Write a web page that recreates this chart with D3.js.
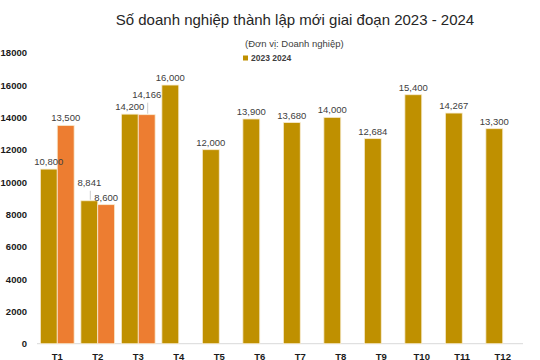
<!DOCTYPE html>
<html lang="vi">
<head>
<meta charset="UTF-8">
<script src="https://cdn.jsdelivr.net/npm/d3@7"></script>
<style>
  body { margin: 0; background: #fff; font-family: "Liberation Sans", Arial, sans-serif; }
  svg { display: block; }
</style>
</head>
<body>
<svg id="chart" width="540" height="360"></svg>
<script>
// data
const months = ["T1", "T2", "T3", "T4", "T5", "T6", "T7", "T8", "T9", "T10", "T11", "T12"];
const values2023 = [10800, 8841, 14200, 16000, 12000, 13900, 13680, 14000, 12684, 15400, 14267, 13300];
const values2024 = [13500, 8600, 14166, null, null, null, null, null, null, null, null, null];
const seriesNames = ["2023", "2024"];
const yTicks = [0, 2000, 4000, 6000, 8000, 10000, 12000, 14000, 16000, 18000];
const colors = ["#bf9000", "#ed7d31"];

const svg = d3.select("#chart");
const margin = { left: 37, right: 17, top: 52.7, bottom: 16.3 };
const W = 540, H = 360;

// title + unit + legend
svg.append("text")
  .attr("x", 295).attr("y", 24.5)
  .attr("text-anchor", "middle")
  .attr("font-size", 15)
  .attr("fill", "#262626")
  .text("Số doanh nghiệp thành lập mới giai đoạn 2023 - 2024");

svg.append("text")
  .attr("x", 245).attr("y", 47)
  .attr("font-size", 9.5)
  .attr("fill", "#404040")
  .text("(Đơn vị: Doanh nghiệp)");

svg.append("rect")
  .attr("x", 243).attr("y", 55.5).attr("width", 5).attr("height", 5)
  .attr("fill", colors[0]);
svg.append("text")
  .attr("x", 251).attr("y", 61)
  .attr("font-size", 8.5)
  .attr("font-weight", "bold")
  .attr("fill", "#404040")
  .text(seriesNames.join(" "));

const x = d3.scaleBand()
  .domain(months)
  .range([margin.left, W - margin.right]);

const xs = d3.scaleBand()
  .domain(seriesNames)
  .range([0, x.bandwidth()])
  .paddingInner(0)
  .paddingOuter(0.2);

const y = d3.scaleLinear()
  .domain([0, 18000])
  .range([H - margin.bottom, margin.top]);

// y axis labels
svg.append("g")
  .selectAll("text")
  .data(yTicks)
  .join("text")
  .attr("x", 27)
  .attr("y", d => y(d) + 3.5)
  .attr("text-anchor", "end")
  .attr("font-size", 9.5)
  .attr("font-weight", "bold")
  .attr("fill", "#1a1a1a")
  .text(d => d);

// baseline
svg.append("line")
  .attr("x1", margin.left).attr("x2", W - margin.right)
  .attr("y1", y(0)).attr("y2", y(0))
  .attr("stroke", "#d9d9d9");

// x labels (sit right at the bottom edge, like the original)
svg.append("g")
  .selectAll("text")
  .data(months)
  .join("text")
  .attr("x", d => x(d) + x.bandwidth() / 2)
  .attr("y", 359.5)
  .attr("text-anchor", "middle")
  .attr("font-size", 9.5)
  .attr("font-weight", "bold")
  .attr("fill", "#1a1a1a")
  .text(d => d);

const bars = [];
months.forEach((m, i) => {
  [values2023[i], values2024[i]].forEach((v, s) => {
    if (v != null) bars.push({ m, s, v });
  });
});

// a couple of labels were pushed up in the original, with leader lines
const nudge = { "T2-0": 11, "T3-1": 13 };

svg.append("g")
  .selectAll("rect")
  .data(bars)
  .join("rect")
  .attr("x", d => x(d.m) + xs(seriesNames[d.s]))
  .attr("width", xs.bandwidth())
  .attr("y", d => y(d.v))
  .attr("height", d => y(0) - y(d.v))
  .attr("fill", d => colors[d.s])
  .attr("stroke", "#f8ecd0")
  .attr("stroke-width", 0.8);

const fmt = d3.format(",");
const lab = svg.append("g");
bars.forEach(d => {
  const cx = x(d.m) + xs(seriesNames[d.s]) + xs.bandwidth() / 2;
  const dy = nudge[d.m + "-" + d.s] || 0;
  if (dy) {
    lab.append("line")
      .attr("x1", cx + 1).attr("x2", cx + 1)
      .attr("y1", y(d.v) - 1).attr("y2", y(d.v) - dy + 1)
      .attr("stroke", "#bfbfbf").attr("stroke-width", 0.8);
  }
  lab.append("text")
    .attr("x", cx)
    .attr("y", y(d.v) - 4 - dy)
    .attr("text-anchor", "middle")
    .attr("font-size", 9.5)
    .attr("fill", "#404040")
    .text(fmt(d.v));
});
</script>
</body>
</html>
